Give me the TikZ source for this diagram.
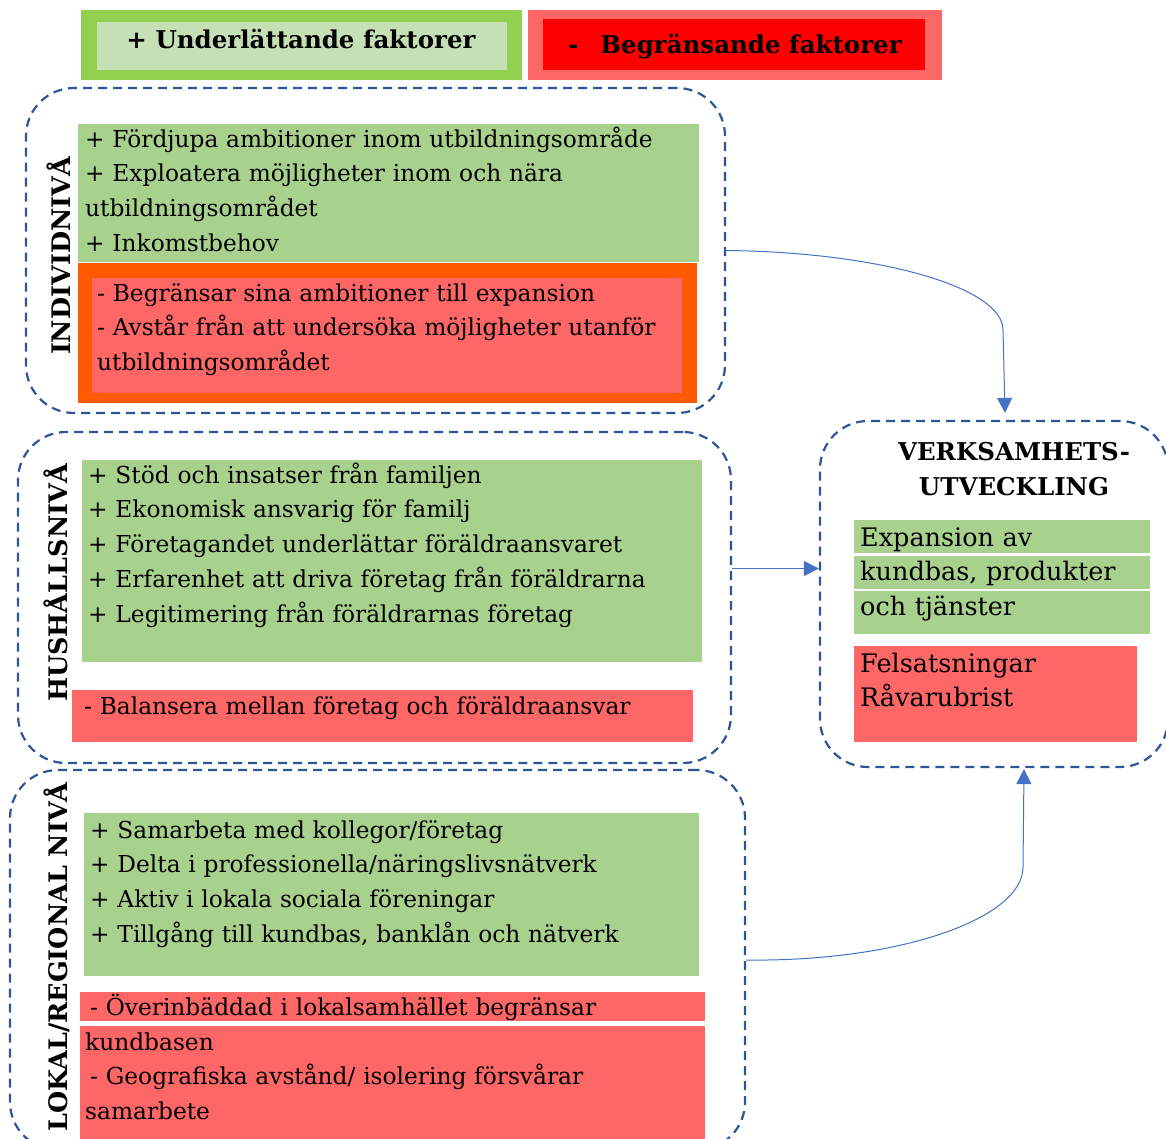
\documentclass[tikz,border=0pt]{standalone}
\usepackage{fontspec}
\setmainfont{DejaVu Serif}
\usetikzlibrary{arrows.meta,positioning}

\definecolor{headgreen}{HTML}{92D050}
\definecolor{headpale}{HTML}{C5E0B4}
\definecolor{plusgreen}{HTML}{A9D18E}
\definecolor{minusred}{HTML}{FF6666}
\definecolor{headred}{HTML}{FF0000}
\definecolor{minusorange}{HTML}{FF5A00}
\definecolor{dashblue}{HTML}{2F5597}
\definecolor{arrowblue}{HTML}{4472C4}

\newcommand\bodyfont{\fontsize{23.3}{34.8}\selectfont}
\newcommand\bigbodyfont{\fontsize{25.5}{34.5}\selectfont}
\newcommand\headfont{\bfseries\fontsize{24.5}{35}\selectfont}
\newcommand\levelfont{\bfseries\fontsize{25.5}{30}\selectfont}

\tikzset{
  levelbox/.style={draw=dashblue, line width=2.2pt, dash pattern=on 9pt off 6pt,
    rounded corners=48pt, inner sep=0pt},
  fillbox/.style={anchor=north west, inner sep=0pt, outer sep=0pt},
  bodytext/.style={anchor=base west, align=left, inner sep=0pt,
    text width=660pt, font=\bodyfont},
  levellabel/.style={rotate=90, inner sep=0pt, font=\levelfont},
  flow/.style={draw=arrowblue, line width=1pt, -{Triangle[width=15pt,length=15pt]}},
}

\begin{document}
\begin{tikzpicture}[x=1pt,y=-1pt]
  \useasboundingbox (0,0) rectangle (1166,1138);

  % Header: facilitating / limiting factors
  \node[fillbox, fill=headgreen, minimum width=441pt, minimum height=70pt] (plusouter) at (81,10) {};
  \node[fillbox, fill=headpale, minimum width=410pt, minimum height=48pt] (plusinner) at (97,22) {};
  \node[anchor=base, inner sep=0pt, font=\headfont] (plushead) at (301,48) {+ Underlättande faktorer};
  \node[fillbox, fill=minusred, minimum width=414pt, minimum height=70pt] (minusouter) at (528,10) {};
  \node[fillbox, fill=headred, minimum width=382pt, minimum height=51pt] (minusinner) at (543,19) {};
  \node[anchor=base, inner sep=0pt, font=\headfont] (minushead) at (735,53) {-\hspace{22pt}Begränsande faktorer};

  % Individual level
  \node[levelbox, minimum width=699pt, minimum height=325pt] (ind) at (375.5,250.5) {};
  \node[fillbox, fill=plusgreen, minimum width=621pt, minimum height=138pt] (indplus) at (78,124) {};
  \node[fillbox, fill=minusorange, minimum width=619pt, minimum height=140pt] (indframe) at (78,263) {};
  \node[fillbox, fill=minusred, minimum width=590pt, minimum height=115pt] (indminus) at (92,278) {};
  \node[bodytext] (indplustext) at (85,147) {+ Fördjupa ambitioner inom utbildningsområde\\
    + Exploatera möjligheter inom och nära\\utbildningsområdet\\+ Inkomstbehov};
  \node[bodytext] (indminustext) at (97,301) {- Begränsar sina ambitioner till expansion\\
    - Avstår från att undersöka möjligheter utanför\\utbildningsområdet};
  \node[levellabel] (indlabel) at (59,256) {INDIVIDNIVÅ};

  % Household level
  \node[levelbox, minimum width=713pt, minimum height=331pt] (hus) at (374.5,597.5) {};
  \node[fillbox, fill=plusgreen, minimum width=620pt, minimum height=202pt] (husplus) at (82,460) {};
  \node[fillbox, fill=minusred, minimum width=621pt, minimum height=52pt] (husminus) at (72,690) {};
  \node[bodytext] (husplustext) at (88,483) {+ Stöd och insatser från familjen\\
    + Ekonomisk ansvarig för familj\\+ Företagandet underlättar föräldraansvaret\\
    + Erfarenhet att driva företag från föräldrarna\\+ Legitimering från föräldrarnas företag};
  \node[bodytext] (husminustext) at (84,714) {- Balansera mellan företag och föräldraansvar};
  \node[levellabel] (huslabel) at (56,583) {HUSHÅLLSNIVÅ};

  % Local / regional level
  \node[levelbox, minimum width=735pt, minimum height=380pt] (lok) at (377.5,960) {};
  \node[fillbox, fill=plusgreen, minimum width=615pt, minimum height=163pt] (lokplus) at (84,813) {};
  \node[fillbox, fill=minusred, minimum width=625pt, minimum height=29pt] (lokminusa) at (80,992) {};
  \node[fillbox, fill=minusred, minimum width=625pt, minimum height=120pt] (lokminusb) at (80,1026) {};
  \node[bodytext] (lokplustext) at (90,838) {+ Samarbeta med kollegor/företag\\
    + Delta i professionella/näringslivsnätverk\\+ Aktiv i lokala sociala föreningar\\
    + Tillgång till kundbas, banklån och nätverk};
  \node[bodytext] (lokminusatext) at (90,1015) {- Överinbäddad i lokalsamhället begränsar};
  \node[bodytext] (lokminusbtext) at (85,1050) {kundbasen\\
    \hspace{5pt}- Geografiska avstånd/ isolering försvårar\\samarbete};
  \node[levellabel] (loklabel) at (57,957) {LOKAL/REGIONAL NIVÅ};

  % Business development
  \node[levelbox, minimum width=348pt, minimum height=346pt] (verk) at (994,594) {};
  \node[anchor=base, align=center, inner sep=0pt, text width=300pt, font=\headfont] (verktitle) at (1014,460)
    {VERKSAMHETS-\\UTVECKLING};
  \node[fillbox, fill=plusgreen, minimum width=296pt, minimum height=33pt] (verkplusa) at (854,520) {};
  \node[fillbox, fill=plusgreen, minimum width=296pt, minimum height=33pt] (verkplusb) at (854,556) {};
  \node[fillbox, fill=plusgreen, minimum width=296pt, minimum height=43pt] (verkplusc) at (854,591) {};
  \node[fillbox, fill=minusred, minimum width=283pt, minimum height=96pt] (verkminus) at (854,646) {};
  \node[bodytext, text width=300pt, font=\bigbodyfont] (verkplustext) at (860,546) {Expansion av\\kundbas, produkter\\och tjänster};
  \node[bodytext, text width=280pt, font=\bigbodyfont] (verkminustext) at (860,672) {Felsatsningar\\Råvarubrist};

  % Connectors
  \path ([yshift=29pt]hus.east) coordinate (husout);
  \draw[flow] (ind.east) .. controls (878,252) and (1003,287) .. (1003,330)
    -- ([xshift=11pt,yshift=7pt]verk.north);
  \draw[flow] (husout) -- (husout -| verk.west);
  \draw[flow] (lok.east) .. controls (898,962) and (1023,919) .. (1023,867)
    -- ([xshift=30pt,yshift=-1pt]verk.south);
\end{tikzpicture}
\end{document}
